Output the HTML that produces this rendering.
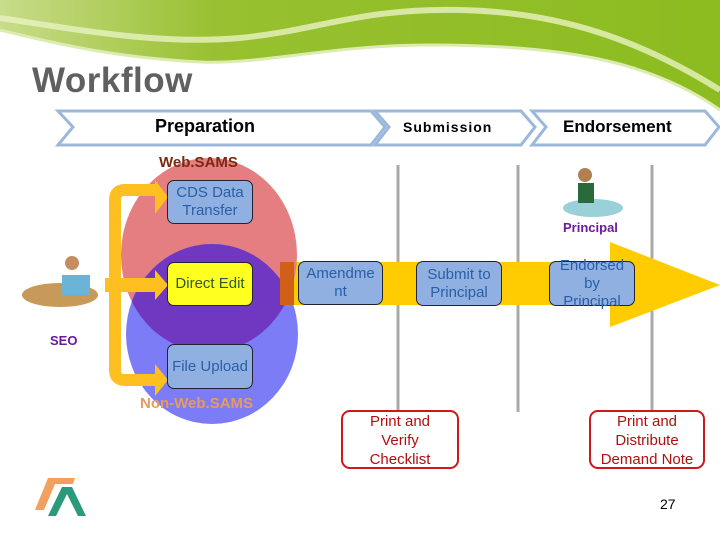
<!DOCTYPE html>
<html><head><meta charset="utf-8"><style>
body{margin:0;width:720px;height:540px;overflow:hidden;background:#fff;font-family:"Liberation Sans",sans-serif;position:relative}
.a{position:absolute}
.box{position:absolute;box-sizing:border-box;border:1px solid #223;border-radius:7px;background:#8fb0e0;color:#2a5fa8;font-size:15px;text-align:center;line-height:18px;display:flex;align-items:center;justify-content:center}
.red{position:absolute;box-sizing:border-box;border:2px solid #d01818;border-radius:9px;background:#fff;color:#b01010;font-size:15px;text-align:center;line-height:19px}
</style></head><body>
<svg class="a" style="left:0;top:0" width="720" height="540">
<defs><linearGradient id="g" x1="0" x2="1"><stop offset="0" stop-color="#c8dc8a"/><stop offset="0.3" stop-color="#98c030"/><stop offset="1" stop-color="#8cbc20"/></linearGradient></defs>
<path d="M0,0 H720 V110 C650,60 560,45 430,45 C330,45 260,65 200,62 C120,58 60,45 0,30 Z" fill="url(#g)"/>
<path d="M0,18 C80,30 160,45 240,38 C320,30 360,8 460,10 C560,12 640,40 720,90" stroke="#e8f2c0" stroke-width="6" fill="none" opacity="0.8"/>
<path d="M0,30 C60,45 120,58 200,62 C260,65 330,45 430,45 C560,45 650,60 720,110" stroke="#dcecb0" stroke-width="3" fill="none"/>
<polygon points="58,111 371,111 385,127 371,145 58,145 73,127" fill="#fff" stroke="#9bb8da" stroke-width="3"/>
<polygon points="375,111 521,111 535,127 521,145 375,145 389,127" fill="#fff" stroke="#9bb8da" stroke-width="3"/>
<polygon points="532,111 705,111 719,127 705,145 532,145 546,127" fill="#fff" stroke="#9bb8da" stroke-width="3"/>
<line x1="398" y1="165" x2="398" y2="410" stroke="#aaa" stroke-width="3"/>
<line x1="518" y1="165" x2="518" y2="412" stroke="#aaa" stroke-width="3"/>
<line x1="652" y1="165" x2="652" y2="412" stroke="#aaa" stroke-width="3"/>
<rect x="282" y="262" width="335" height="43" fill="#fecc00"/>
<polygon points="610,242 720,285 610,327" fill="#fecc00"/>
<ellipse cx="209" cy="255" rx="88" ry="97" fill="#e47e80"/>
<ellipse cx="212" cy="334" rx="86" ry="90" fill="#7c7cf6"/>
<clipPath id="c"><ellipse cx="209" cy="255" rx="88" ry="97"/></clipPath>
<ellipse cx="212" cy="334" rx="86" ry="90" fill="#7038c0" clip-path="url(#c)"/>
<rect x="280" y="262" width="14" height="43" fill="#d06018"/>
<path d="M158,190 H125 Q115,190 115,200 V370 Q115,380 125,380 H158" stroke="#fec020" stroke-width="12" fill="none"/>
<rect x="105" y="278" width="55" height="14" fill="#fec020"/>
<polygon points="155,180 168,197 155,214" fill="#fec020"/>
<polygon points="155,270 168,285 155,300" fill="#fec020"/>
<polygon points="155,364 168,380 155,396" fill="#fec020"/>
<ellipse cx="60" cy="295" rx="38" ry="12" fill="#c89a5a"/>
<rect x="62" y="275" width="28" height="20" fill="#6ab4d8"/>
<circle cx="72" cy="263" r="7" fill="#c88a60"/>
<ellipse cx="593" cy="208" rx="30" ry="9" fill="#9ad0d8"/>
<rect x="578" y="183" width="16" height="20" fill="#2a6a3a"/>
<circle cx="585" cy="175" r="7" fill="#b08050"/>
<polygon points="35,510 48,478 75,478 73,484 55,484 44,510" fill="#f2a060"/>
<polygon points="48,516 62,487 72,487 86,516 78,516 67,494 56,516" fill="#2a9a7a"/>
</svg>
<div class="a" style="left:32px;top:61px;font-size:35px;font-weight:bold;color:#606060;letter-spacing:0.5px">Workflow</div>
<div class="a" style="left:155px;top:116px;font-size:18px;font-weight:bold">Preparation</div>
<div class="a" style="left:403px;top:119px;font-size:14px;font-weight:bold;letter-spacing:1px">Submission</div>
<div class="a" style="left:563px;top:117px;font-size:17px;font-weight:bold">Endorsement</div>
<div class="a" style="left:159px;top:154px;font-size:15px;font-weight:bold;color:#7a2a10">Web.SAMS</div>
<div class="a" style="left:140px;top:395px;font-size:15px;font-weight:bold;color:#e89a60">Non-Web.SAMS</div>
<div class="a" style="left:50px;top:333px;font-size:13px;font-weight:bold;color:#6a1a9a">SEO</div>
<div class="a" style="left:563px;top:220px;font-size:13px;font-weight:bold;color:#6a1a9a">Principal</div>
<div class="box" style="left:167px;top:180px;width:86px;height:44px">CDS Data<br>Transfer</div>
<div class="box" style="left:167px;top:262px;width:86px;height:44px;background:#ffff20;color:#2a5a3a">Direct Edit</div>
<div class="box" style="left:167px;top:344px;width:86px;height:45px">File Upload</div>
<div class="box" style="left:298px;top:261px;width:85px;height:44px">Amendme<br>nt</div>
<div class="box" style="left:416px;top:261px;width:86px;height:45px">Submit to<br>Principal</div>
<div class="box" style="left:549px;top:261px;width:86px;height:45px">Endorsed<br>by<br>Principal</div>
<div class="red" style="left:341px;top:410px;width:118px;height:59px">Print and<br>Verify<br>Checklist</div>
<div class="red" style="left:589px;top:410px;width:116px;height:59px">Print and<br>Distribute<br>Demand Note</div>
<div class="a" style="left:660px;top:496px;font-size:14px">27</div>
</body></html>
